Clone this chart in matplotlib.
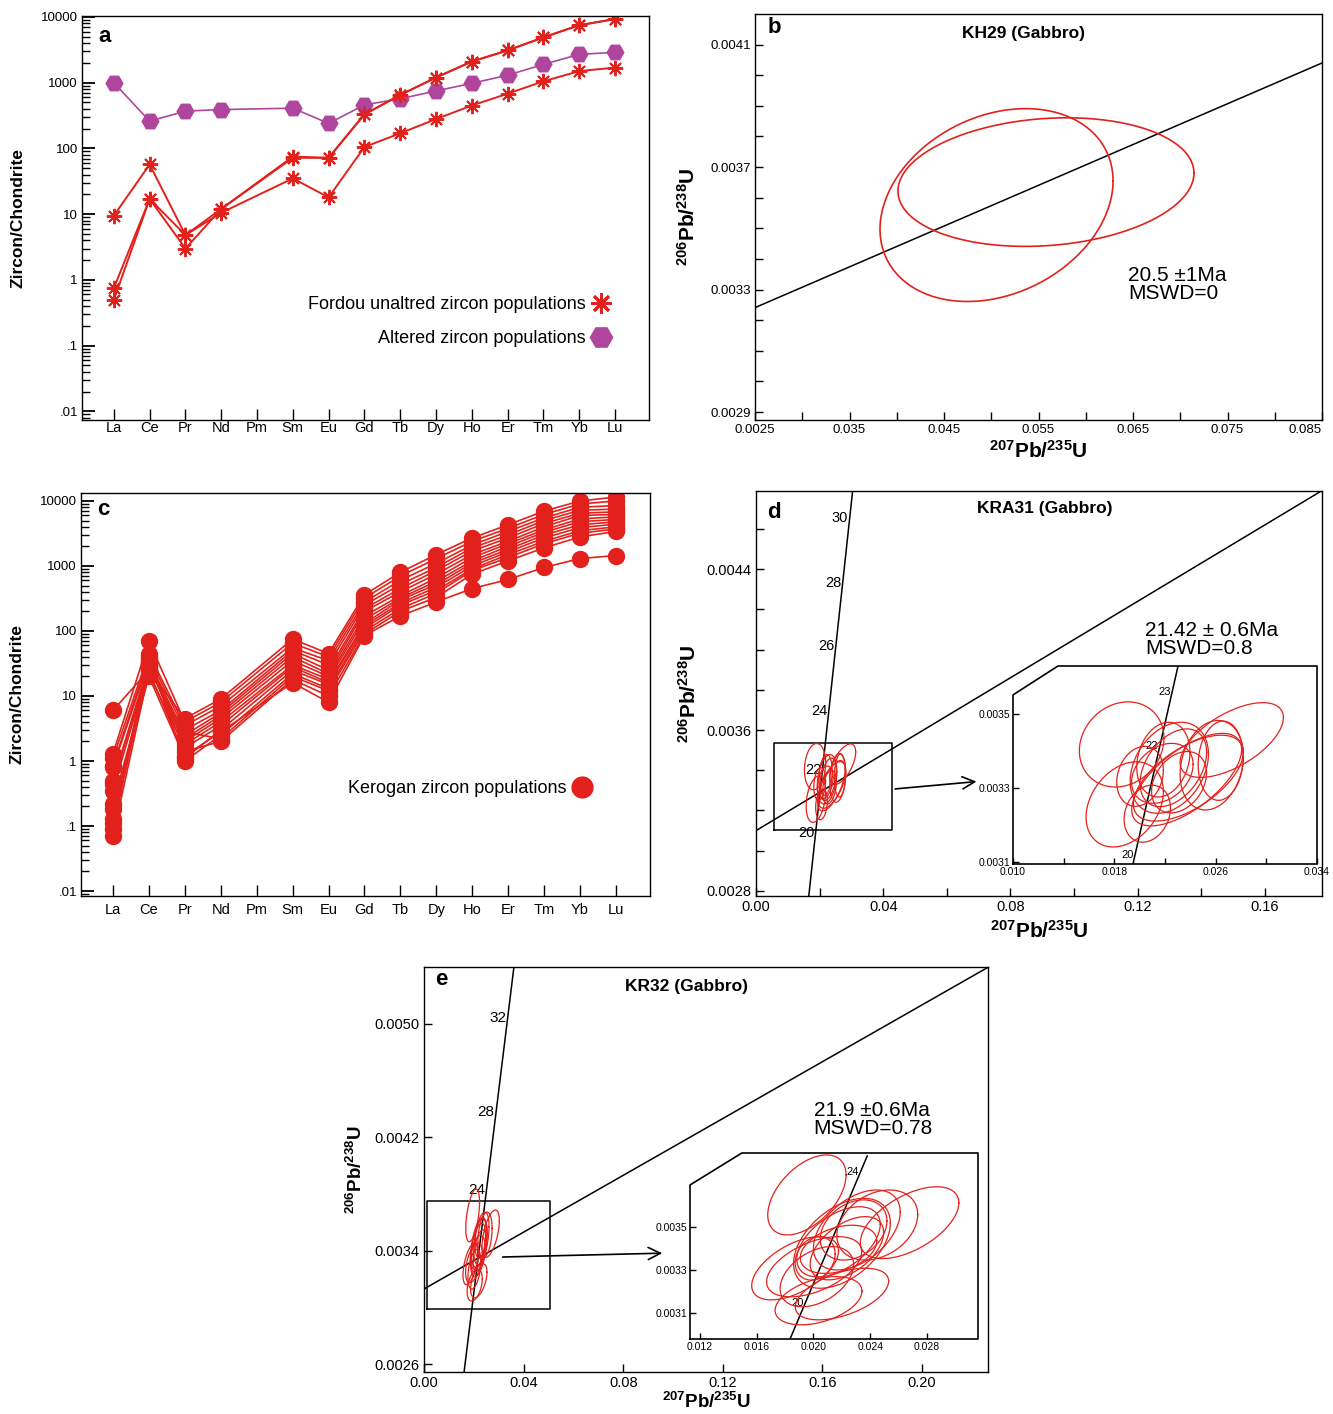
import numpy as np
import matplotlib
matplotlib.use('Agg')
import matplotlib.pyplot as plt
from matplotlib.lines import Line2D
from matplotlib.ticker import FixedLocator, NullFormatter, LogLocator

plt.rcParams['font.family'] = ['Liberation Sans', 'DejaVu Sans']
plt.rcParams['mathtext.fontset'] = 'custom'
plt.rcParams['mathtext.rm'] = 'Liberation Sans'
plt.rcParams['mathtext.bf'] = 'Liberation Sans:bold'
plt.rcParams['axes.linewidth'] = 1.0

RED = '#e3211c'
PURPLE = '#b0459d'

# ---------------- data ----------------
elements = ['La', 'Ce', 'Pr', 'Nd', 'Pm', 'Sm', 'Eu', 'Gd', 'Tb', 'Dy', 'Ho', 'Er', 'Tm', 'Yb', 'Lu']
nan = np.nan

# panel a (chondrite normalised)
altered = [1000, 260, 370, 390, nan, 410, 240, 460, 570, 750, 980, 1300, 1900, 2700, 2900]
fordou_1 = [9.5, 57, 4.8, 12, nan, 75, 72, 330, 650, 1200, 2100, 3100, 4900, 7500, 9300]
fordou_2 = [0.75, 17, 3.0, 12, nan, 72, 72, 330, 650, 1200, 2100, 3100, 4900, 7500, 9300]
fordou_3 = [0.5, 17, 4.8, 10.5, nan, 35, 18, 105, 170, 280, 450, 680, 1050, 1500, 1700]

# panel c, one list per element (14 grains)
k_La = [6, 1.3, 1.1, 0.85, 0.8, 0.5, 0.45, 0.35, 0.22, 0.18, 0.13, 0.11, 0.09, 0.07]
k_Ce = [25, 70, 45, 40, 35, 32, 30, 28, 22, 20, 38, 26, 33, 24]
k_Pr = [4.5, 4, 3.5, 3, 2.5, 2.2, 2, 1.8, 1.6, 1.1, 1.0, 2.8, 1.4, 1.2]
k_Nd = [9, 8, 7, 6, 5.5, 5, 4.5, 4, 3.5, 3, 2.5, 2.2, 2, 2.8]
k_Pm = [nan] * 14
k_Sm = [75, 65, 55, 50, 45, 40, 35, 30, 28, 25, 22, 20, 18, 16]
k_Eu = [45, 40, 35, 30, 25, 22, 20, 18, 16, 15, 13, 12, 10, 8]
k_Gd = [360, 320, 280, 250, 220, 200, 170, 150, 130, 120, 110, 100, 90, 85]
k_Tb = [800, 700, 600, 520, 450, 400, 350, 320, 300, 270, 250, 220, 200, 170]
k_Dy = [1500, 1300, 1100, 950, 850, 750, 650, 580, 520, 470, 420, 380, 330, 280]
k_Ho = [2700, 2400, 2100, 1900, 1700, 1500, 1350, 1200, 1100, 1000, 900, 850, 750, 450]
k_Er = [4300, 3800, 3400, 3000, 2700, 2400, 2200, 2000, 1800, 1650, 1500, 1350, 1200, 620]
k_Tm = [7000, 6200, 5500, 5000, 4500, 4000, 3600, 3300, 3000, 2700, 2400, 2200, 1900, 950]
k_Yb = [10000, 9000, 8000, 7200, 6500, 6000, 5300, 4800, 4300, 3900, 3500, 3200, 2800, 1300]
k_Lu = [11500, 10000, 8500, 7500, 6800, 6200, 5700, 5200, 4800, 4400, 4000, 3700, 3400, 1450]

# panel b: KH29 ellipses (centre, 1 sigma half widths, error correlation)
b_cx = [0.05056, 0.05579]
b_cy = [0.003576, 0.003651]
b_sx = [0.01233, 0.01566]
b_sy = [0.000315, 0.000210]
b_rho = [0.25, 0.14]
b_line_x = [0.025, 0.085]
b_line_y = [0.003241, 0.00404]

# panel d: KRA31
d_cx = [0.01858, 0.01882, 0.02003, 0.02060, 0.02234, 0.02266, 0.02371, 0.02384, 0.02311, 0.02569, 0.02640, 0.02727, 0.02187, 0.02179]
d_cy = [0.003418, 0.003256, 0.003332, 0.003231, 0.003355, 0.003355, 0.003323, 0.003327, 0.003316, 0.003362, 0.003374, 0.003430, 0.003377, 0.003340]
d_sx = [0.00334, 0.00305, 0.00184, 0.00183, 0.00309, 0.00263, 0.00434, 0.00434, 0.00217, 0.00250, 0.00178, 0.00408, 0.00210, 0.00243]
d_sy = [0.000115, 0.000115, 0.000081, 0.000077, 0.000123, 0.000105, 0.000125, 0.000116, 0.000083, 0.000121, 0.000107, 0.000101, 0.000101, 0.000081]
d_rho = [0.15, 0.3, 0.2, 0.2, 0.3, 0.4, 0.65, 0.6, 0.3, 0.2, 0.1, 0.6, 0.2, 0.3]
d_line_x = [0.0, 0.178]
d_line_y = [0.0031, 0.00479]
d_conc_x = [0.0166, 0.0304]
d_conc_y = [0.002775, 0.00479]
d_ages = [20, 22, 24, 26, 28, 30]
d_age_y = [0.00309, 0.003402, 0.003697, 0.004017, 0.004331, 0.004655]
d_inset_conc_x = [0.01947, 0.02303]
d_inset_conc_y = [0.003095, 0.00363]
d_inset_ages = [20, 22, 23]
d_inset_age_y = [0.003118, 0.003413, 0.00356]

# panel e: KR32
e_cx = [0.01954, 0.02678, 0.01871, 0.02005, 0.02036, 0.02201, 0.02201, 0.02177, 0.02306, 0.02450, 0.02012, 0.02236, 0.02024, 0.02177, 0.02283]
e_cy = [0.003649, 0.003520, 0.003308, 0.003315, 0.003157, 0.003188, 0.003424, 0.003431, 0.003486, 0.003509, 0.003354, 0.003401, 0.003269, 0.003396, 0.003486]
e_sx = [0.00276, 0.00347, 0.00306, 0.00335, 0.00306, 0.00329, 0.00341, 0.00294, 0.00306, 0.00285, 0.00141, 0.00259, 0.00259, 0.00270, 0.00235]
e_sy = [0.000186, 0.000167, 0.000147, 0.000140, 0.000112, 0.000120, 0.000209, 0.000163, 0.000186, 0.000163, 0.000101, 0.000147, 0.000140, 0.000112, 0.000140]
e_rho = [0.5, 0.55, 0.55, 0.5, 0.4, 0.5, 0.45, 0.5, 0.45, 0.3, 0.2, 0.5, 0.4, 0.35, 0.3]
e_line_x = [0.0, 0.2265]
e_line_y = [0.00313, 0.0054]
e_conc_x = [0.0161, 0.0361]
e_conc_y = [0.002544, 0.0054]
e_ages = [24, 28, 32]
e_age_y = [0.003828, 0.004378, 0.005042]
e_inset_conc_x = [0.01836, 0.02379]
e_inset_conc_y = [0.00298, 0.00383]
e_inset_ages = [20, 24]
e_inset_age_y = [0.003147, 0.003756]

# ---------------- figure ----------------
W, H = 1333, 1414
fig = plt.figure(figsize=(W / 100, H / 100), dpi=100)


def add_axes_px(left, top, right, bottom):
    return fig.add_axes([left / W, 1 - bottom / H, (right - left) / W, (bottom - top) / H])


def setup_ree(ax, ylim, xpad):
    ax.set_yscale('log')
    ax.set_ylim(*ylim)
    ax.set_xlim(-0.89, 14.95)
    ax.set_xticks(range(len(elements)))
    ax.set_xticklabels(elements)
    ax.yaxis.set_major_locator(FixedLocator([0.01, 0.1, 1, 10, 100, 1000, 10000]))
    ax.set_yticklabels(['.01', '.1', '1', '10', '100', '1000', '10000'])
    ax.yaxis.set_minor_locator(LogLocator(base=10, subs=np.arange(2, 10)))
    ax.yaxis.set_minor_formatter(NullFormatter())
    ax.tick_params(axis='y', which='major', direction='in', length=9, width=1.3, labelsize=9.5, pad=3)
    ax.tick_params(axis='y', which='minor', direction='in', length=6, width=1.0)
    ax.tick_params(axis='x', direction='in', length=8, width=1.0, labelsize=10.5, pad=xpad)
    ax.set_ylabel('Zircon/Chondrite', fontsize=12.5, fontweight='bold')
    ax.yaxis.set_label_coords(-0.10, 0.5)


def plot_ree(ax, vals, **kw):
    v = np.array(vals, dtype=float)
    x = np.arange(len(v))
    ok = ~np.isnan(v)
    ax.plot(x[ok], v[ok], **kw)


def draw_ellipses(ax, cx, cy, sx, sy, rho, lw=1.0):
    t = np.linspace(0, 2 * np.pi, 200)
    for i in range(len(cx)):
        x = cx[i] + sx[i] * np.cos(t)
        y = cy[i] + sy[i] * (rho[i] * np.cos(t) + np.sqrt(1 - rho[i] ** 2) * np.sin(t))
        ax.plot(x, y, color=RED, lw=lw, zorder=3)


def conc_labels(ax, cx, cy, ages, age_y, size):
    for a, y in zip(ages, age_y):
        x = np.interp(y, cy, cx)
        ax.annotate(str(a), xy=(x, y), xytext=(-1, 0), textcoords='offset points',
                    ha='right', va='center', fontsize=size)


def pb_labels(ax, xl, yl, size=15):
    ax.set_xlabel(r'$\mathbf{^{207}Pb/^{235}U}$', fontsize=size)
    ax.set_ylabel(r'$\mathbf{^{206}Pb/^{238}U}$', fontsize=size)
    ax.xaxis.set_label_coords(0.5, xl)
    ax.yaxis.set_label_coords(yl, 0.5)


def chamfer_frame(ax, cx, cy):
    for s in ax.spines.values():
        s.set_visible(False)
    ax.patch.set_visible(False)
    ax.plot([0, 1, 1, cx, 0, 0], [0, 0, 1, 1, cy, 0], transform=ax.transAxes,
            color='k', lw=1.2, clip_on=False)


# ---- a ----
ax_a = add_axes_px(82, 16, 649, 420)
setup_ree(ax_a, (0.00737, 10356), 1)
plot_ree(ax_a, altered, color=PURPLE, lw=1.2, marker='H', ms=12, mfc=PURPLE, mec=PURPLE)
for s in (fordou_1, fordou_2, fordou_3):
    plot_ree(ax_a, s, color=RED, lw=1.4, marker=(8, 2, 0), ms=11, mew=1.4, mec=RED)
h1 = Line2D([], [], ls='none', marker=(8, 2, 0), ms=15, mew=2.0, color=RED)
h2 = Line2D([], [], ls='none', marker='H', ms=16, color=PURPLE)
ax_a.legend([h1, h2], ['Fordou unaltred zircon populations', 'Altered zircon populations'],
            loc='lower right', bbox_to_anchor=(0.96, 0.14), frameon=False, markerfirst=False,
            fontsize=13, handlelength=1.0, handletextpad=0.35, labelspacing=0.95)
ax_a.text(0.039, 0.95, 'a', transform=ax_a.transAxes, fontsize=16, fontweight='bold', ha='center', va='center')

# ---- c ----
ax_c = add_axes_px(81, 493, 650, 896)
setup_ree(ax_c, (0.00838, 13270), 5)
kerogan = np.column_stack([k_La, k_Ce, k_Pr, k_Nd, k_Pm, k_Sm, k_Eu, k_Gd, k_Tb, k_Dy, k_Ho, k_Er, k_Tm, k_Yb, k_Lu])
for row in kerogan:
    plot_ree(ax_c, row, color=RED, lw=1.2, marker='o', ms=11.5, mfc=RED, mec=RED)
h3 = Line2D([], [], ls='none', marker='o', ms=15, color=RED)
ax_c.legend([h3], ['Kerogan zircon populations'], loc='lower right', bbox_to_anchor=(0.925, 0.205),
            frameon=False, markerfirst=False, fontsize=13, handlelength=1.0, handletextpad=0.35)
ax_c.text(0.04, 0.958, 'c', transform=ax_c.transAxes, fontsize=16, fontweight='bold', ha='center', va='center')

# ---- b ----
ax_b = add_axes_px(755, 14, 1322, 420)
ax_b.set_xlim(0.025, 0.085)
ax_b.set_ylim(0.002874, 0.0042)
ax_b.plot(b_line_x, b_line_y, color='k', lw=1.1)
draw_ellipses(ax_b, b_cx, b_cy, b_sx, b_sy, b_rho, lw=1.2)
ax_b.set_xticks([0.025, 0.035, 0.045, 0.055, 0.065, 0.075, 0.085])
ax_b.set_xticklabels(['0.0025', '0.035', '0.045', '0.055', '0.065', '0.075', '0.085'])
ax_b.get_xticklabels()[-1].set_horizontalalignment('right')
ax_b.set_xticks(np.arange(0.03, 0.0801, 0.01), minor=True)
ax_b.set_yticks([0.0029, 0.0033, 0.0037, 0.0041])
ax_b.set_yticklabels(['0.0029', '0.0033', '0.0037', '0.0041'])
ax_b.set_yticks(np.arange(0.0029, 0.00415, 0.0001), minor=True)
ax_b.tick_params(which='both', direction='in', length=6, width=1.0, labelsize=9.5, pad=3)
pb_labels(ax_b, -0.05, -0.099)
ax_b.text(0.034, 0.966, 'b', transform=ax_b.transAxes, fontsize=16, fontweight='bold', ha='center', va='center')
ax_b.text(0.474, 0.953, 'KH29 (Gabbro)', transform=ax_b.transAxes, fontsize=12.5, fontweight='bold', ha='center', va='center')
ax_b.text(0.658, 0.38, '20.5 ±1Ma\nMSWD=0', transform=ax_b.transAxes, fontsize=15, ha='left', va='top', linespacing=0.95)

# ---- d ----
ax_d = add_axes_px(756, 491, 1322, 896)
ax_d.set_xlim(0.0, 0.178)
ax_d.set_ylim(0.002775, 0.004788)
ax_d.plot(d_line_x, d_line_y, color='k', lw=1.1)
ax_d.plot(d_conc_x, d_conc_y, color='k', lw=1.1)
conc_labels(ax_d, d_conc_x, d_conc_y, d_ages, d_age_y, 10.5)
draw_ellipses(ax_d, d_cx, d_cy, d_sx, d_sy, d_rho, lw=0.9)
ax_d.plot([0.0056, 0.0429, 0.0429, 0.0056, 0.0056], [0.003105, 0.003105, 0.003537, 0.003537, 0.003105], color='k', lw=1.1)
ax_d.annotate('', xy=(0.0702, 0.003345), xytext=(0.0429, 0.003306),
              arrowprops=dict(arrowstyle='->', lw=1.2, color='k', mutation_scale=22))
ax_d.set_xticks([0.0, 0.04, 0.08, 0.12, 0.16])
ax_d.set_xticklabels(['0.00', '0.04', '0.08', '0.12', '0.16'])
ax_d.set_xticks([0.02, 0.06, 0.10, 0.14], minor=True)
ax_d.set_yticks([0.0028, 0.0036, 0.0044])
ax_d.set_yticklabels(['0.0028', '0.0036', '0.0044'])
ax_d.set_yticks(np.arange(0.0028, 0.00471, 0.0002), minor=True)
ax_d.tick_params(which='both', direction='in', length=6, width=1.0, labelsize=10.5, pad=3)
pb_labels(ax_d, -0.058, -0.10)
ax_d.text(0.032, 0.946, 'd', transform=ax_d.transAxes, fontsize=16, fontweight='bold', ha='center', va='center')
ax_d.text(0.511, 0.956, 'KRA31 (Gabbro)', transform=ax_d.transAxes, fontsize=12.5, fontweight='bold', ha='center', va='center')
ax_d.text(0.687, 0.68, '21.42 ± 0.6Ma\nMSWD=0.8', transform=ax_d.transAxes, fontsize=15, ha='left', va='top', linespacing=0.95)

ax_di = add_axes_px(1013, 666, 1317, 864)
ax_di.set_xlim(0.010, 0.034)
ax_di.set_ylim(0.003095, 0.00363)
ax_di.plot(d_inset_conc_x, d_inset_conc_y, color='k', lw=1.1)
conc_labels(ax_di, d_inset_conc_x, d_inset_conc_y, d_inset_ages, d_inset_age_y, 8)
draw_ellipses(ax_di, d_cx, d_cy, d_sx, d_sy, d_rho, lw=0.9)
chamfer_frame(ax_di, 0.148, 0.854)
ax_di.set_xticks(np.arange(0.010, 0.0341, 0.004))
ax_di.set_xticklabels(['0.010', '', '0.018', '', '0.026', '', '0.034'])
ax_di.set_yticks([0.0031, 0.0033, 0.0035])
ax_di.set_yticklabels(['0.0031', '0.0033', '0.0035'])
ax_di.tick_params(direction='in', length=4, width=1.0, labelsize=7.5, pad=2)

# ---- e ----
ax_e = add_axes_px(424, 967, 988, 1372)
ax_e.set_xlim(0.0, 0.2265)
ax_e.set_ylim(0.002544, 0.005402)
ax_e.plot(e_line_x, e_line_y, color='k', lw=1.1)
ax_e.plot(e_conc_x, e_conc_y, color='k', lw=1.1)
conc_labels(ax_e, e_conc_x, e_conc_y, e_ages, e_age_y, 11)
draw_ellipses(ax_e, e_cx, e_cy, e_sx, e_sy, e_rho, lw=0.9)
ax_e.plot([0.0012, 0.0506, 0.0506, 0.0012, 0.0012], [0.002988, 0.002988, 0.00375, 0.00375, 0.002988], color='k', lw=1.1)
ax_e.annotate('', xy=(0.0968, 0.003383), xytext=(0.0305, 0.003355),
              arrowprops=dict(arrowstyle='->', lw=1.2, color='k', mutation_scale=22))
ax_e.set_xticks([0.0, 0.04, 0.08, 0.12, 0.16, 0.20])
ax_e.set_xticklabels(['0.00', '0.04', '0.08', '0.12', '0.16', '0.20'])
ax_e.set_yticks([0.0026, 0.0034, 0.0042, 0.0050])
ax_e.set_yticklabels(['0.0026', '0.0034', '0.0042', '0.0050'])
ax_e.tick_params(direction='in', length=6, width=1.0, labelsize=10.5, pad=3)
pb_labels(ax_e, -0.05, -0.103, size=13.5)
ax_e.text(0.030, 0.97, 'e', transform=ax_e.transAxes, fontsize=16, fontweight='bold', ha='center', va='center')
ax_e.text(0.465, 0.953, 'KR32 (Gabbro)', transform=ax_e.transAxes, fontsize=12.5, fontweight='bold', ha='center', va='center')
ax_e.text(0.691, 0.67, '21.9 ±0.6Ma\nMSWD=0.78', transform=ax_e.transAxes, fontsize=15, ha='left', va='top', linespacing=0.95)

ax_ei = add_axes_px(690, 1153, 978, 1339)
ax_ei.set_xlim(0.0113, 0.0316)
ax_ei.set_ylim(0.002979, 0.003844)
ax_ei.plot(e_inset_conc_x, e_inset_conc_y, color='k', lw=1.1)
conc_labels(ax_ei, e_inset_conc_x, e_inset_conc_y, e_inset_ages, e_inset_age_y, 8)
draw_ellipses(ax_ei, e_cx, e_cy, e_sx, e_sy, e_rho, lw=0.9)
chamfer_frame(ax_ei, 0.18, 0.828)
ax_ei.set_xticks([0.012, 0.016, 0.020, 0.024, 0.028])
ax_ei.set_xticklabels(['0.012', '0.016', '0.020', '0.024', '0.028'])
ax_ei.set_yticks([0.0031, 0.0033, 0.0035])
ax_ei.set_yticklabels(['0.0031', '0.0033', '0.0035'])
ax_ei.tick_params(direction='in', length=4, width=1.0, labelsize=7.5, pad=2)

fig.savefig('out.png', dpi=100)
